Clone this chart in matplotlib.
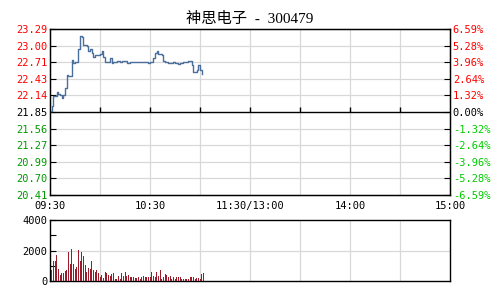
import matplotlib
matplotlib.use("Agg")
import matplotlib.pyplot as plt
import matplotlib.transforms as mtransforms
import numpy as np

plt.rcParams['font.family'] = ['DejaVu Sans Mono', 'Noto Sans CJK SC']

title = "神思电子 - 300479"
prev_close = 21.85
price_ticks = [23.29, 23.00, 22.71, 22.43, 22.14, 21.85, 21.56, 21.27, 20.99, 20.70, 20.41]
pct_labels = ["6.59%", "5.28%", "3.96%", "2.64%", "1.32%", "0.00%",
              "-1.32%", "-2.64%", "-3.96%", "-5.28%", "-6.59%"]
time_labels = ["09:30", "10:30", "11:30/13:00", "14:00", "15:00"]
time_label_pos = [0, 60, 120, 180, 240]

prices = [21.86, 21.95, 22.12, 22.12, 22.19, 22.16, 22.15, 22.09, 22.15, 22.26,
          22.49, 22.47, 22.47, 22.76, 22.70, 22.72, 22.72, 22.94, 23.17, 23.15,
          23.01, 23.01, 22.99, 22.91, 22.95, 22.88, 22.80, 22.84, 22.84, 22.84,
          22.85, 22.91, 22.81, 22.72, 22.72, 22.72, 22.78, 22.70, 22.72, 22.72,
          22.74, 22.74, 22.72, 22.73, 22.74, 22.73, 22.70, 22.70, 22.71, 22.72,
          22.72, 22.72, 22.72, 22.72, 22.72, 22.72, 22.72, 22.72, 22.72, 22.70,
          22.72, 22.72, 22.78, 22.88, 22.91, 22.86, 22.85, 22.84, 22.74, 22.72,
          22.72, 22.70, 22.70, 22.70, 22.72, 22.70, 22.70, 22.68, 22.70, 22.70,
          22.71, 22.72, 22.72, 22.74, 22.74, 22.66, 22.55, 22.55, 22.58, 22.66,
          22.58, 22.51]

volumes = [690, 1330, 1330, 1720, 800, 400, 550, 550, 660, 730,
           1920, 1130, 2120, 1130, 820, 950, 2010, 1330, 1880, 1660,
           1060, 620, 860, 770, 1330, 690, 620, 730, 510, 240,
           400, 200, 620, 550, 400, 330, 460, 510, 130, 150,
           310, 130, 550, 330, 600, 330, 400, 240, 290, 240,
           200, 200, 240, 130, 240, 330, 240, 290, 240, 290,
           600, 330, 240, 600, 330, 730, 150, 240, 460, 400,
           240, 350, 130, 240, 150, 290, 290, 290, 130, 150,
           130, 150, 150, 240, 290, 290, 150, 200, 200, 150,
           460, 530]

fig = plt.figure(figsize=(5, 3), dpi=100)
fig.patch.set_facecolor('white')

ax = fig.add_axes([0.1, 0.35, 0.8, 0.5533])
grid_c = '#d8d8d8'
ax.set_xlim(0, 240)
ax.set_ylim(price_ticks[-1], price_ticks[0])
for t in price_ticks[1:-1]:
    if abs(t - prev_close) < 1e-6:
        ax.axhline(t, color='black', lw=1.0, zorder=2)
    else:
        ax.axhline(t, color=grid_c, lw=0.9, zorder=1)
for m in range(30, 240, 30):
    ax.axvline(m, color=grid_c, lw=0.9, zorder=1)
# small tick marks on the previous-close line
zero_frac = (prev_close - price_ticks[-1]) / (price_ticks[0] - price_ticks[-1])
trans = mtransforms.blended_transform_factory(ax.transData, ax.transAxes)
ax.vlines(list(range(30, 240, 30)), zero_frac, zero_frac + 0.028, transform=trans,
          color='black', lw=1.0, zorder=2)
ax.step(np.arange(len(prices)), prices, where='post', color='#4a6f9c', lw=1.0, zorder=3)
ax.set_yticks(price_ticks)
ax.set_yticklabels([f"{t:.2f}" for t in price_ticks], fontsize=7.5)
for lbl, t in zip(ax.get_yticklabels(), price_ticks):
    if t > prev_close + 1e-6:
        lbl.set_color('red')
    elif t < prev_close - 1e-6:
        lbl.set_color('#009900')
    else:
        lbl.set_color('black')
ax.tick_params(axis='y', direction='in', length=4, pad=2)
ax.set_xticks(time_label_pos)
ax.set_xticklabels(time_labels, fontsize=7.5)
ax.tick_params(axis='x', length=0, pad=4)
for s in ax.spines.values():
    s.set_linewidth(1.0)

ax2 = ax.twinx()
ax2.set_ylim(price_ticks[-1], price_ticks[0])
ax2.set_yticks(price_ticks)
ax2.set_yticklabels(pct_labels, fontsize=7.5)
for lbl, t in zip(ax2.get_yticklabels(), price_ticks):
    if t > prev_close + 1e-6:
        lbl.set_color('red')
    elif t < prev_close - 1e-6:
        lbl.set_color('#00cc00')
    else:
        lbl.set_color('black')
ax2.tick_params(axis='y', direction='in', length=4, pad=2)

fig.text(0.5, 0.937, title.replace(" - ", "  -  "), ha='center', va='center', fontsize=11,
         family=['Liberation Serif', 'Noto Sans CJK SC'])

axv = fig.add_axes([0.1, 0.0633, 0.8, 0.2033])
axv.set_xlim(0, 240)
axv.set_ylim(0, 4000)
axv.axhline(2000, color=grid_c, lw=0.9, zorder=1)
for m in range(30, 240, 30):
    axv.axvline(m, color=grid_c, lw=0.9, zorder=1)
axv.bar(np.arange(1, len(volumes) + 1), volumes, width=0.6, color='#9b1b2a', zorder=3)
axv.set_yticks([0, 1000, 2000, 3000, 4000])
axv.set_yticklabels(["0", "", "2000", "", "4000"], fontsize=7.5)
axv.tick_params(axis='y', direction='in', length=4, pad=2)
axv.set_xticks([])
for s in axv.spines.values():
    s.set_linewidth(1.0)

fig.savefig("out.png", dpi=100)
